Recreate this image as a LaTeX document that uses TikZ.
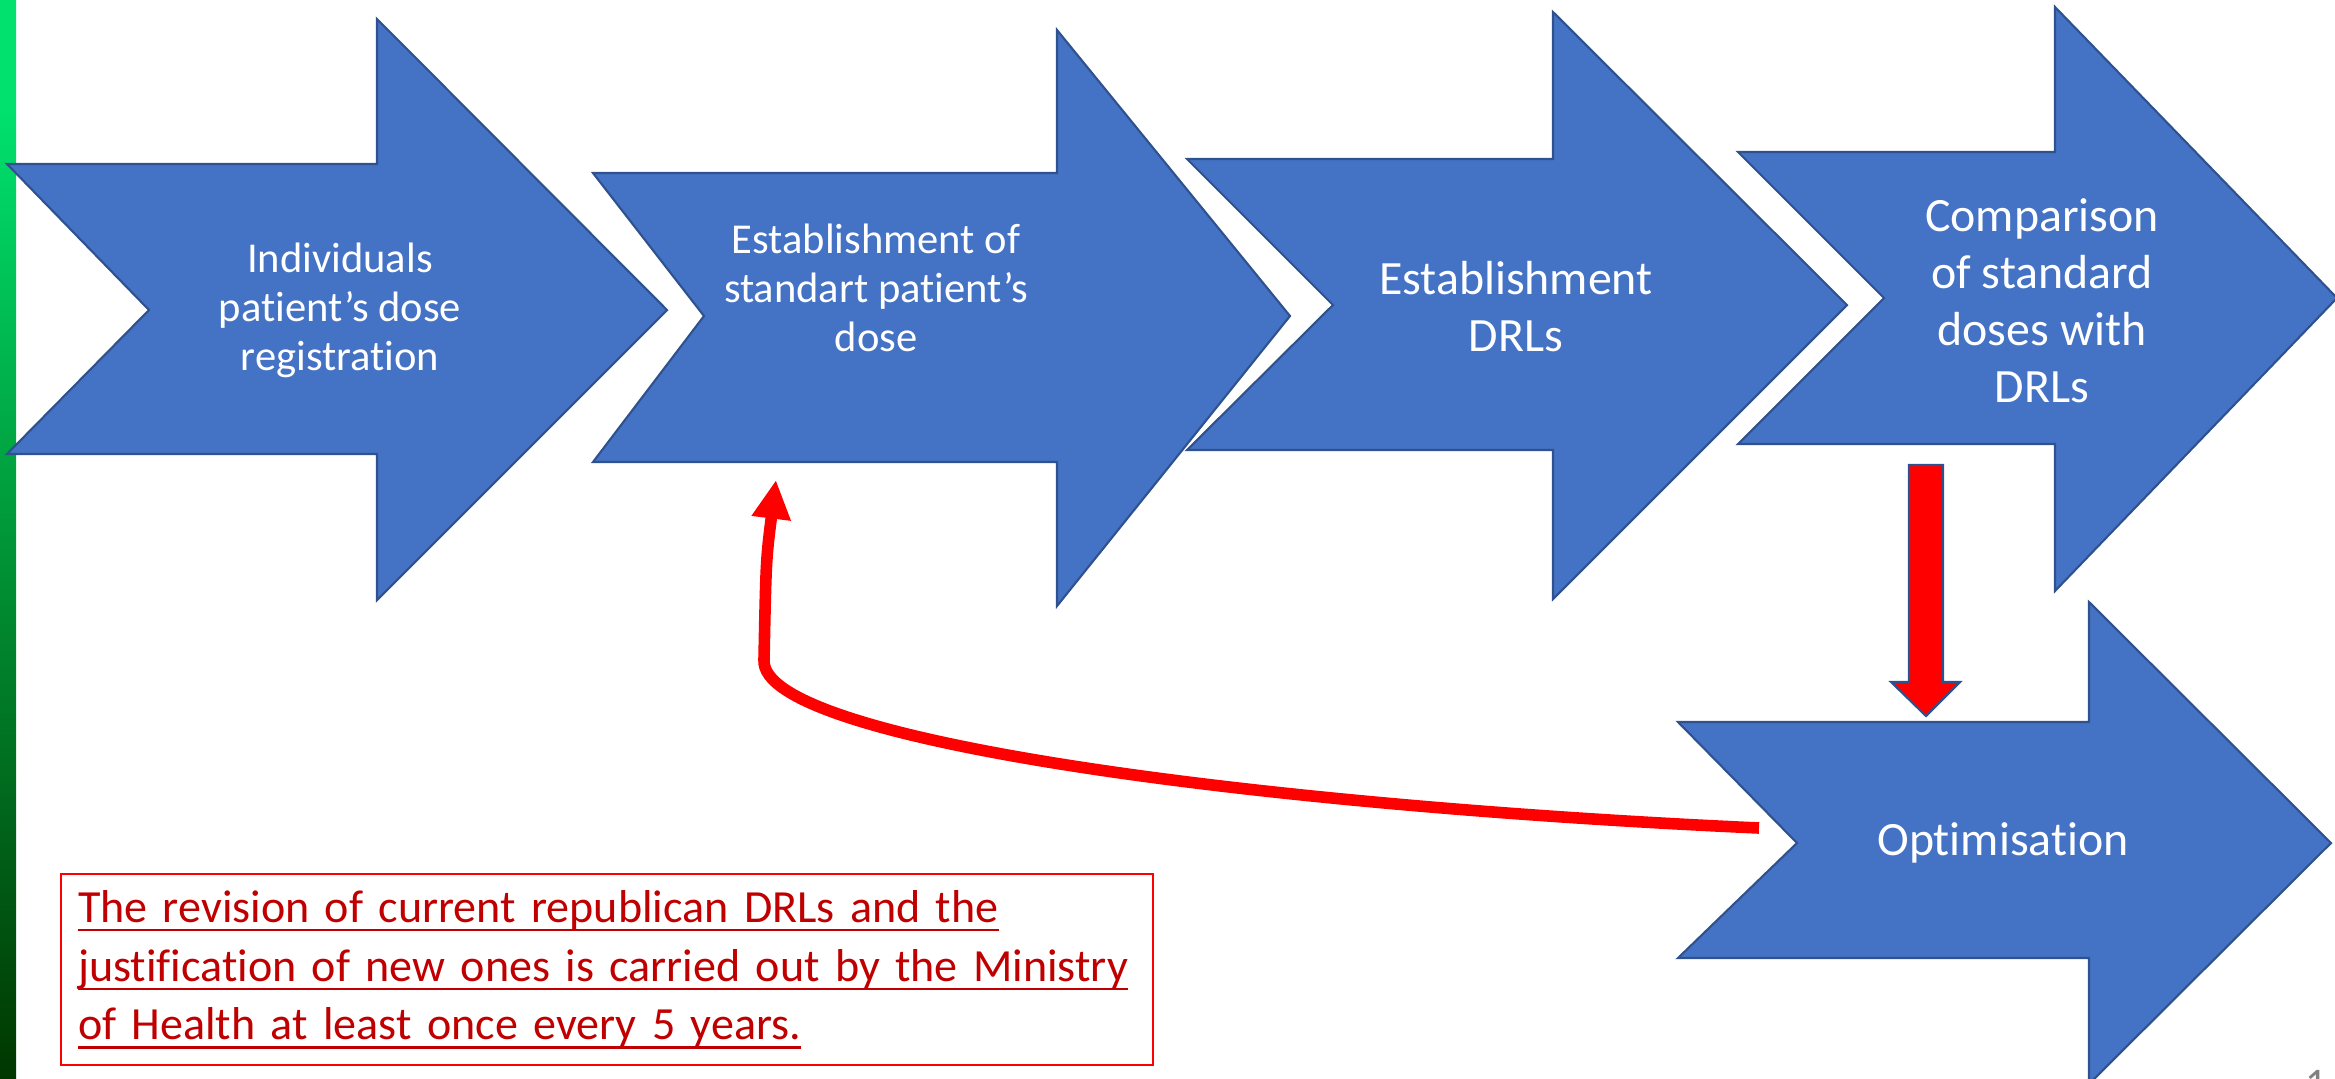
\documentclass[tikz,border=0pt]{standalone}
\usepackage{fontspec}
\setmainfont{Carlito}[Ligatures=CommonOff]
\usetikzlibrary{arrows.meta}

\definecolor{arrowblue}{HTML}{4472C4}
\definecolor{edgeblue}{HTML}{2F528F}
\definecolor{notered}{HTML}{C00000}
\definecolor{stripgreen}{RGB}{0,225,110}
\definecolor{stripmid}{RGB}{0,150,55}
\definecolor{stripdark}{RGB}{0,55,0}
\pgfdeclareverticalshading{stripfade}{100bp}{color(0bp)=(stripdark); color(25bp)=(stripdark);
    color(50bp)=(stripmid); color(70bp)=(stripgreen); color(100bp)=(stripgreen)}

% underline sitting close to the baseline
\newcommand\ulinetext[1]{\leavevmode\hbox{\setbox0\hbox{#1}\rlap{\copy0}\vrule width\wd0 height -1.8pt depth 2.5pt}}

\begin{document}
\begin{tikzpicture}[x=0.01cm,y=-0.01cm]
    \tikzstyle{blockarrow}=[fill=arrowblue, draw=edgeblue, line width=0.6pt, line join=miter]
    \tikzstyle{steptext}=[text=white, align=center, font=\fontsize{12.1}{13.9}\selectfont]
    \tikzstyle{bigtext}=[steptext, font=\fontsize{13.6}{16.2}\selectfont]
    \tikzstyle{feedback}=[draw=red, line width=3.3pt, -{Triangle[length=11pt,width=10.5pt]}]
    \tikzstyle{notebox}=[draw=red, line width=0.6pt, text=notered, align=left, text width=10.57cm,
        inner xsep=0.17cm, minimum height=1.91cm, font=\fontsize{13.1}{16.7}\selectfont]

    \useasboundingbox (0,0) rectangle (2335,1078);
    \shade[shading=stripfade] (0,0) rectangle (16,1078);

    % the five steps
    \draw[blockarrow] (7,164) -- (377,164) -- (377,19) -- (667,310) -- (377,600) -- (377,454) -- (7,454) -- (149,310) -- cycle;
    \draw[blockarrow] (593,173) -- (1057,173) -- (1057,30) -- (1290,316) -- (1057,606) -- (1057,462) -- (593,462) -- (704,316) -- cycle;
    \draw[blockarrow] (1187,159) -- (1553,159) -- (1553,12) -- (1847,305) -- (1553,599) -- (1553,450) -- (1187,450) -- (1333,305) -- cycle;
    \draw[blockarrow] (1738,152) -- (2055,152) -- (2055,7) -- (2337,298) -- (2055,591) -- (2055,444) -- (1738,444) -- (1884,298) -- cycle;
    \draw[blockarrow] (1678,722) -- (2089,722) -- (2089,602) -- (2331,843) -- (2089,1084) -- (2089,958) -- (1678,958) -- (1797,843) -- cycle;

    \node[steptext] (reg) at (340,310) {Individuals\\patient’s dose\\registration};
    \node[steptext] (std) at (876,288) {Establishment of\\standart patient’s\\dose};
    \node[bigtext] (drl) at (1516,307) {Establishment\\DRLs};
    \node[bigtext] (cmp) at (2042,301) {Comparison\\of standard\\doses with\\DRLs};
    \node[bigtext] (opt) at (2003,843) {Optimisation};

    % down to optimisation
    \draw[fill=red, draw=edgeblue, line width=0.6pt] (1909,465) -- (1943,465) -- (1943,682) -- (1960,682) -- (1926,716) -- (1891,682) -- (1909,682) -- cycle;

    % back to the standard dose
    \coordinate (back) at (1759,828);
    \coordinate (bend) at (764,660);
    \coordinate (tip) at (776,480);
    \draw[feedback] (back) .. controls (1250,805) and (760,740) .. (bend) .. controls (766,560) .. (tip);

    \node[notebox, anchor=north west] (note) at (60,873) {\ulinetext{The revision of current republican DRLs and the}\\
        \ulinetext{justification of new ones is carried out by the Ministry}\\
        \ulinetext{of Health at least once every 5 years.}};

    \node[text=gray, anchor=north, font=\fontsize{12}{14}\selectfont] (page) at (2316,1058) {1};
\end{tikzpicture}
\end{document}
